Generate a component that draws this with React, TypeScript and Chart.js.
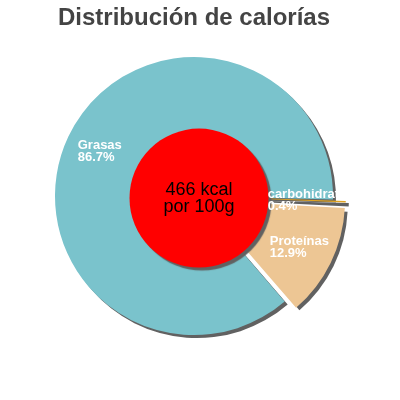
import React, { useEffect, useRef } from "react";
import { Chart, registerables } from "chart.js";

Chart.register(...registerables);

// values
const titleText = "Distribución de calorías";
const sliceLabels = ["carbohidratos", "Proteínas", "Grasas"];
const slicePercents = [0.4, 12.9, 86.7];
const sliceColors = ["#dfa322", "#edc694", "#7ac3cc"];
const sliceExplode = [26, 41, 0];
const centerLines = ["466 kcal", "por 100g"];

const FONT = "'Liberation Sans', Arial, sans-serif";
const SHADOW = "#616161";

// how far chart.js pushes an exploded arc out (ArcElement.draw)
const arcShift = (arc: any, i: number) => {
  const circ = arc.endAngle - arc.startAngle;
  const off = (sliceExplode[i] || 0) / 4;
  return off * (2 - Math.sin(Math.min(Math.PI, circ)));
};

const pieDecor = {
  id: "pieDecor",
  beforeDatasetsDraw(chart: any) {
    // one flat shadow under all slices
    const ctx = chart.ctx;
    const arcs = chart.getDatasetMeta(0).data;
    ctx.save();
    ctx.fillStyle = SHADOW;
    arcs.forEach((arc: any, i: number) => {
      const mid = (arc.startAngle + arc.endAngle) / 2;
      const s = arcShift(arc, i);
      const x = arc.x + Math.cos(mid) * s + 3;
      const y = arc.y + Math.sin(mid) * s + 3;
      ctx.beginPath();
      ctx.moveTo(x, y);
      ctx.arc(x, y, arc.outerRadius, arc.startAngle, arc.endAngle);
      ctx.closePath();
      ctx.fill();
    });
    ctx.restore();
  },
  afterDatasetsDraw(chart: any) {
    const ctx = chart.ctx;
    const arcs = chart.getDatasetMeta(0).data;
    if (!arcs.length) return;
    const cx = arcs[0].x;
    const cy = arcs[0].y;
    const r = arcs[0].outerRadius;

    // red centre disc with its shadow
    const dx = cx + 5;
    const dy = cy + 2;
    ctx.save();
    ctx.shadowColor = SHADOW;
    ctx.shadowOffsetX = 3;
    ctx.shadowOffsetY = 3;
    ctx.shadowBlur = 1;
    ctx.beginPath();
    ctx.arc(dx, dy, r * 0.5, 0, Math.PI * 2);
    ctx.fillStyle = "#ff0000";
    ctx.fill();
    ctx.restore();

    ctx.save();
    ctx.fillStyle = "#000";
    ctx.font = `18px ${FONT}`;
    ctx.textAlign = "center";
    ctx.textBaseline = "middle";
    ctx.fillText(centerLines[0], dx, dy - 8);
    ctx.fillText(centerLines[1], dx, dy + 9);
    ctx.restore();

    // slice labels
    const area = chart.chartArea;
    ctx.save();
    ctx.beginPath();
    ctx.rect(area.left, 0, area.right - area.left, chart.height);
    ctx.clip();
    ctx.font = `bold 13px ${FONT}`;
    ctx.fillStyle = "#fff";
    ctx.textAlign = "left";
    ctx.textBaseline = "middle";
    arcs.forEach((arc: any, i: number) => {
      const mid = (arc.startAngle + arc.endAngle) / 2;
      const dist = arcShift(arc, i) + arc.outerRadius * 0.75;
      const lx = arc.x + Math.cos(mid) * dist;
      const ly = arc.y + Math.sin(mid) * dist;
      const lines = [sliceLabels[i], slicePercents[i].toFixed(1) + "%"];
      const w = Math.max(...lines.map((t) => ctx.measureText(t).width));
      ctx.fillText(lines[0], lx - w / 2, ly - 6);
      ctx.fillText(lines[1], lx - w / 2, ly + 6);
    });
    ctx.restore();
  },
};

const App = () => {
  const chartRef = useRef<HTMLCanvasElement>(null);

  useEffect(() => {
    if (!chartRef.current) return;
    const chart = new Chart(chartRef.current, {
      type: "pie",
      data: {
        labels: sliceLabels,
        datasets: [
          {
            data: slicePercents,
            backgroundColor: sliceColors,
            borderWidth: 0,
            hoverBorderWidth: 0,
            offset: sliceExplode,
            hoverOffset: 0,
            clip: false,
          } as any,
        ],
      },
      options: {
        responsive: false,
        animation: false,
        rotation: 91.4,
        radius: 139,
        events: [],
        layout: { padding: { left: 50, right: 62, top: 0, bottom: 59 } },
        plugins: {
          legend: { display: false },
          tooltip: { enabled: false },
          title: {
            display: true,
            text: titleText,
            color: "#444",
            font: { family: FONT, size: 24, weight: "bold" },
            padding: { top: 4, bottom: 18.4 },
          },
        },
      } as any,
      plugins: [pieDecor],
    });
    return () => chart.destroy();
  }, []);

  return (
    <div style={{ position: "absolute", left: 0, top: 0, width: 400, height: 400, background: "#fff" }}>
      <canvas ref={chartRef} width={400} height={400} />
    </div>
  );
};

export default App;
